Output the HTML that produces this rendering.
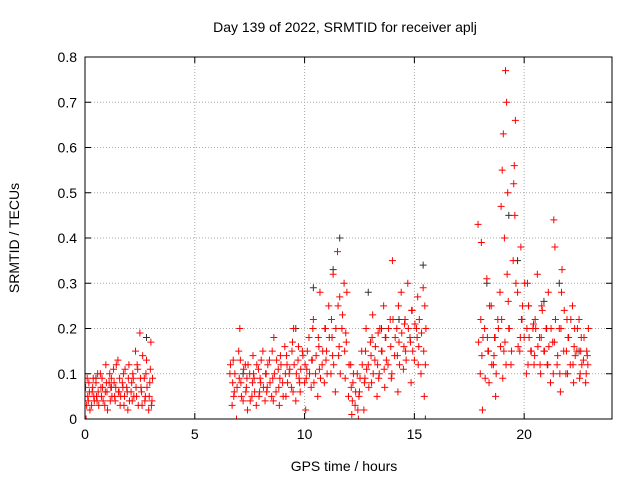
<!DOCTYPE html>
<html><head><meta charset="utf-8"><style>
body{margin:0;background:#fff}
svg{display:block;font-family:"Liberation Sans",sans-serif}
</style></head><body>
<svg id="chart" width="640" height="480">
<text x="345" y="32" text-anchor="middle" font-size="14">Day 139 of 2022, SRMTID for receiver aplj</text>
<text x="344" y="471" text-anchor="middle" font-size="14">GPS time / hours</text>
<text transform="translate(19,238) rotate(-90)" text-anchor="middle" font-size="14">SRMTID / TECUs</text>
<g id="grid"></g><g id="ticks"></g>
<defs><clipPath id="clip"><rect x="85" y="57" width="527" height="362"/></clipPath></defs>
<g id="blk" clip-path="url(#clip)"></g><g id="red" clip-path="url(#clip)"></g>
<rect x="85" y="57" width="527" height="362" fill="none" stroke="#000"/>
</svg>
<script>
const xTicks=[0,5,10,15,20];
const yTicks=[0,0.1,0.2,0.3,0.4,0.5,0.6,0.7,0.8];
const yTickLabels=["0","0.1","0.2","0.3","0.4","0.5","0.6","0.7","0.8"];
const redTimes=[0.0,0.05,0.1,0.15,0.2,0.3,0.35,0.4,0.5,0.55,0.6,0.7,0.75,0.8,0.9,0.95,1.0,1.1,1.15,1.2,1.3,1.35,1.4,1.5,1.55,1.6,1.7,1.75,1.8,1.9,1.95,2.0,2.1,2.15,2.2,2.3,2.35,2.4,2.5,2.55,2.6,2.7,2.75,2.8,2.9,2.95,3.0,3.05,
6.6,6.7,6.75,6.8,6.9,7.0,7.05,7.1,7.2,7.3,7.35,7.4,7.5,7.6,7.65,7.7,7.8,7.9,7.95,8.0,8.1,8.2,8.25,8.3,8.4,8.5,8.55,8.6,8.7,8.8,8.85,8.9,9.0,9.1,9.15,9.2,9.3,9.4,9.45,9.5,9.6,9.7,9.75,9.8,9.9,10.0,10.05,10.1,10.2,10.3,10.35,10.4,10.5,10.6,10.65,10.7,10.8,10.9,10.95,11.0,11.1,11.2,11.25,11.3,11.4,11.5,11.55,11.6,11.7,11.8,11.85,11.9,12.0,12.1,12.15,12.2,12.3,12.4,12.45,12.5,12.6,12.7,12.75,12.8,12.9,13.0,13.05,13.1,13.2,13.3,13.35,13.4,13.5,13.6,13.65,13.7,13.8,13.9,13.95,14.0,14.1,14.2,14.25,14.3,14.4,14.5,14.55,14.6,14.7,14.8,14.85,14.9,15.0,15.1,15.15,15.2,15.3,15.4,15.45,15.5,
17.9,18.0,18.05,18.1,18.2,18.3,18.35,18.4,18.5,18.6,18.65,18.7,18.8,18.9,18.95,19.0,19.05,19.1,19.15,19.2,19.25,19.3,19.4,19.5,19.55,19.6,19.7,19.8,19.85,19.9,20.0,20.1,20.15,20.2,20.3,20.4,20.45,20.5,20.6,20.7,20.75,20.8,20.9,21.0,21.05,21.1,21.2,21.3,21.35,21.4,21.5,21.6,21.65,21.7,21.8,21.9,21.95,22.0,22.1,22.2,22.25,22.3,22.4,22.5,22.55,22.6,22.7,22.8,22.85,22.9];
const redValues=[.05,.0,.09,.04,.06,.03,.07,.05,.08,.04,.06,.1,.05,.07,.03,.12,.06,.08,.04,.09,.11,.05,.07,.13,.06,.03,.08,.1,.05,.07,.02,.12,.06,.04,.09,.15,.05,.11,.19,.07,.03,.09,.05,.13,.02,.08,.17,.04,
.1,.03,.13,.06,.0,.15,.2,.08,.04,.12,.07,.02,.1,.05,.14,.09,.03,.11,.06,.08,.15,.04,.1,.07,.13,.05,.09,.18,.06,.11,.03,.14,.08,.16,.05,.12,.1,.07,.17,.2,.04,.13,.09,.06,.15,.08,.02,.11,.18,.07,.13,.22,.1,.05,.16,.28,.12,.08,.2,.15,.25,.1,.18,.32,.06,.37,.14,.27,.2,.3,.09,.17,.05,.12,.01,.08,.03,.1,.0,.06,.15,.02,.09,.2,.12,.17,.08,.23,.13,.05,.19,.1,.15,.25,.07,.18,.12,.22,.09,.35,.14,.2,.06,.17,.28,.11,.21,.15,.3,.18,.08,.24,.13,.2,.27,.16,.1,.29,.05,.12,
.43,.1,.39,.02,.2,.31,.15,.08,.25,.12,.18,.05,.22,.28,.47,.55,.63,.4,.77,.7,.5,.2,.12,.35,.56,.66,.28,.15,.38,.22,.18,.1,.3,.25,.15,.2,.12,.22,.32,.18,.1,.25,.15,.2,.12,.28,.08,.17,.44,.38,.12,.2,.06,.28,.15,.1,.22,.18,.12,.25,.08,.2,.15,.22,.1,.18,.13,.08,.15,.12];
const redValues2=[.07,.03,.05,.08,.02,.06,.09,.04,.05,.1,.03,.07,.09,.04,.06,.08,.02,.1,.07,.05,.08,.04,.12,.06,.09,.05,.07,.03,.11,.06,.09,.04,.08,.1,.05,.07,.12,.03,.09,.06,.14,.04,.1,.07,.05,.11,.03,.09,
.12,.08,.05,.1,.07,.09,.13,.05,.11,.06,.09,.12,.04,.08,.1,.06,.12,.05,.09,.13,.07,.1,.06,.12,.08,.15,.04,.1,.13,.07,.09,.12,.05,.1,.14,.08,.11,.15,.06,.12,.1,.16,.08,.11,.14,.12,.09,.15,.1,.13,.2,.08,.14,.18,.11,.09,.15,.2,.13,.1,.18,.22,.14,.12,.2,.25,.16,.1,.23,.15,.19,.28,.12,.07,.04,.1,.06,.02,.05,.09,.12,.08,.15,.11,.07,.14,.18,.1,.16,.12,.09,.2,.15,.11,.18,.13,.2,.16,.1,.22,.18,.14,.25,.12,.19,.16,.22,.13,.2,.17,.24,.15,.21,.18,.12,.22,.19,.15,.25,.2,.17,.22,.14,.18,.09,
.18,.15,.25,.12,.14,.18,.1,.2,.16,.22,.09,.15,.17,.12,.32,.26,.2,.15,.52,.45,.3,.16,.18,.22,.25,.3,.2,.12,.18,.15,.21,.14,.2,.16,.12,.18,.24,.15,.2,.12,.16,.2,.1,.17,.22,.14,.1,.2,.33,.24,.15,.1,.18,.22,.12,.16,.14,.2,.09,.15,.12,.18,.1,.14,.2,.12,.16,.1,.13,.18];
const blackTimes=[0.5,1.2,2.8,7.2,9.6,10.4,11.6,11.3,12.9,13.5,14.3,15.4,15.5,18.3,19.3,19.7,20.2,20.9,21.6,22.5];
const blackValues=[.09,.07,.18,.1,.2,.29,.4,.33,.28,.2,.22,.34,.0,.3,.45,.35,.25,.26,.3,.15];
const X0=85,X1=612,Y0=419,Y1=57,XMAX=24,YMAX=0.8;
const xs=t=>X0+(X1-X0)*t/XMAX, ys=v=>Y0-(Y0-Y1)*v/YMAX;
const NS="http://www.w3.org/2000/svg";
function mk(tag,attrs,parent){const e=document.createElementNS(NS,tag);for(const k in attrs)e.setAttribute(k,attrs[k]);parent.appendChild(e);return e;}
const grid=document.getElementById('grid'),ticks=document.getElementById('ticks');
xTicks.forEach(t=>{const x=xs(t);
 if(t>0){const g=mk('line',{x1:x,x2:x,y1:Y1,y2:Y0,stroke:'#aaa','stroke-dasharray':'1,2'},grid);
 
 }
 mk('line',{x1:x,x2:x,y1:Y0,y2:Y0-6,stroke:'#000'},ticks);
 mk('line',{x1:x,x2:x,y1:Y1,y2:Y1+6,stroke:'#000'},ticks);
 const l=mk('text',{x:x,y:Y0+20,'text-anchor':'middle','font-size':14},ticks);l.textContent=t;
 
 });
yTicks.forEach((v,i)=>{const y=ys(v);
 if(v>0&&v<YMAX){const g=mk('line',{x1:X0,x2:X1,y1:y,y2:y,stroke:'#aaa','stroke-dasharray':'1,2'},grid);
 
 }
 mk('line',{x1:X0,x2:X0+6,y1:y,y2:y,stroke:'#000'},ticks);
 mk('line',{x1:X1,x2:X1-6,y1:y,y2:y,stroke:'#000'},ticks);
 const l=mk('text',{x:X0-8,y:y+5,'text-anchor':'end','font-size':14},ticks);l.textContent=yTickLabels[i];
 
 });
function plot(ts,vs,col,gid,name,dt){const g=document.getElementById(gid);const n=Math.min(ts.length,vs.length);
 for(let i=0;i<n;i++){const x=xs(ts[i]+dt),y=ys(vs[i]);
  const p=mk('path',{d:`M${x-3.5} ${y}H${x+3.5}M${x} ${y-3.5}V${y+3.5}`,stroke:col,'stroke-width':1},g);
  
  }}
plot(blackTimes,blackValues,'#333','blk','black-point',0);
plot(redTimes,redValues,'#ff0000','red','red-point',0);
plot(redTimes,redValues2,'#ff0000','red','red-point',0.025);
</script>
</body></html>
